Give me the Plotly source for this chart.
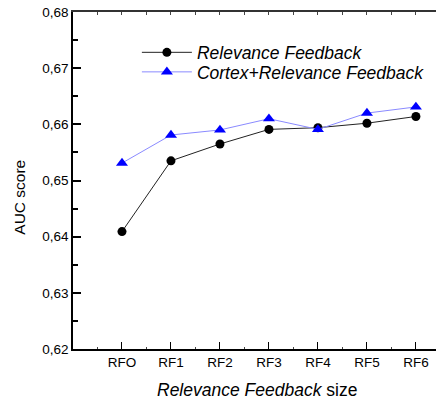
import plotly.graph_objects as go

categories = ["RFO", "RF1", "RF2", "RF3", "RF4", "RF5", "RF6"]
rf_values = [0.6409, 0.6535, 0.6565, 0.6591, 0.6594, 0.6602, 0.6614]
cortex_rf_values = [0.6531, 0.6581, 0.6590, 0.6610, 0.6591, 0.6620, 0.6631]
y_ticks = [0.62, 0.63, 0.64, 0.65, 0.66, 0.67, 0.68]
y_tick_labels = ["0,62", "0,63", "0,64", "0,65", "0,66", "0,67", "0,68"]

xpos = list(range(len(categories)))
FONT = "Arial, 'Liberation Sans', sans-serif"

fig = go.Figure()
fig.add_trace(go.Scatter(
    x=xpos, y=rf_values, mode="lines+markers",
    name="<i>Relevance Feedback</i>", legend="legend", showlegend=True,
    line=dict(color="#222222", width=1),
    marker=dict(symbol="circle", size=9, color="black"),
))
fig.add_trace(go.Scatter(
    x=xpos, y=cortex_rf_values, mode="lines+markers",
    name="<i>Cortex+Relevance Feedback</i>", legend="legend2", showlegend=True,
    line=dict(color="#8a8aff", width=1),
    marker=dict(symbol="triangle-up", size=10.5, color="#0000ff"),
))
# invisible trace for top axis ticks
fig.add_trace(go.Scatter(x=[], y=[], xaxis="x2", showlegend=False, hoverinfo="skip"))

xr = [-1, 6.41]
legend_common = dict(
    xanchor="left", yanchor="middle", visible=True,
    bgcolor="rgba(0,0,0,0)", font=dict(size=17.5),
    itemwidth=50,
)
fig.update_layout(
    width=436, height=400, showlegend=True,
    margin=dict(l=73, r=0, t=12, b=51, autoexpand=False),
    paper_bgcolor="white", plot_bgcolor="white",
    font=dict(family=FONT, color="black", size=13),
    xaxis=dict(
        range=xr, tickvals=xpos, ticktext=categories, automargin=False,
        ticks="inside", ticklen=7, tickwidth=1, tickcolor="black",
        showline=True, linecolor="black", linewidth=1.5,
        showgrid=False, zeroline=False,
        tickfont=dict(size=13.5),
        minor=dict(ticks="inside", ticklen=2, dtick=0.5, tick0=-0.5, tickcolor="#444", showgrid=False),
    ),
    xaxis2=dict(
        range=xr, overlaying="x", side="top", automargin=False,
        tickvals=[v / 2 for v in range(-2, 14)],
        ticks="inside", ticklen=3, tickcolor="#444",
        showticklabels=False, showline=True, linecolor="#333", linewidth=1.5,
        showgrid=False, zeroline=False,
    ),
    yaxis=dict(
        range=[0.62, 0.68], tickvals=y_ticks, ticktext=y_tick_labels, automargin=False,
        ticks="inside", ticklen=8, tickwidth=1.5, tickcolor="black",
        showline=True, linecolor="black", linewidth=1.5,
        showgrid=False, zeroline=False,
        tickfont=dict(size=13.5), ticklabelstandoff=0,
        minor=dict(ticks="inside", ticklen=5, dtick=0.005, tick0=0.62, tickcolor="black", showgrid=False),
    ),
    legend=dict(x=0.176, y=0.88, **legend_common),
    legend2=dict(x=0.176, y=0.822, **legend_common),
    annotations=[
        dict(text="<i>Relevance Feedback</i> size", xref="paper", yref="paper",
             x=0.508, y=-0.1217, xanchor="center", yanchor="middle",
             showarrow=False, font=dict(size=17.5)),
        dict(text="AUC score", xref="paper", yref="paper",
             x=-0.146, y=0.449, xanchor="center", yanchor="middle",
             textangle=-90, showarrow=False, font=dict(size=15.5)),
    ],
)

fig.write_html("out.html", config={"displayModeBar": False},
               post_script="document.body.style.margin='0';")
